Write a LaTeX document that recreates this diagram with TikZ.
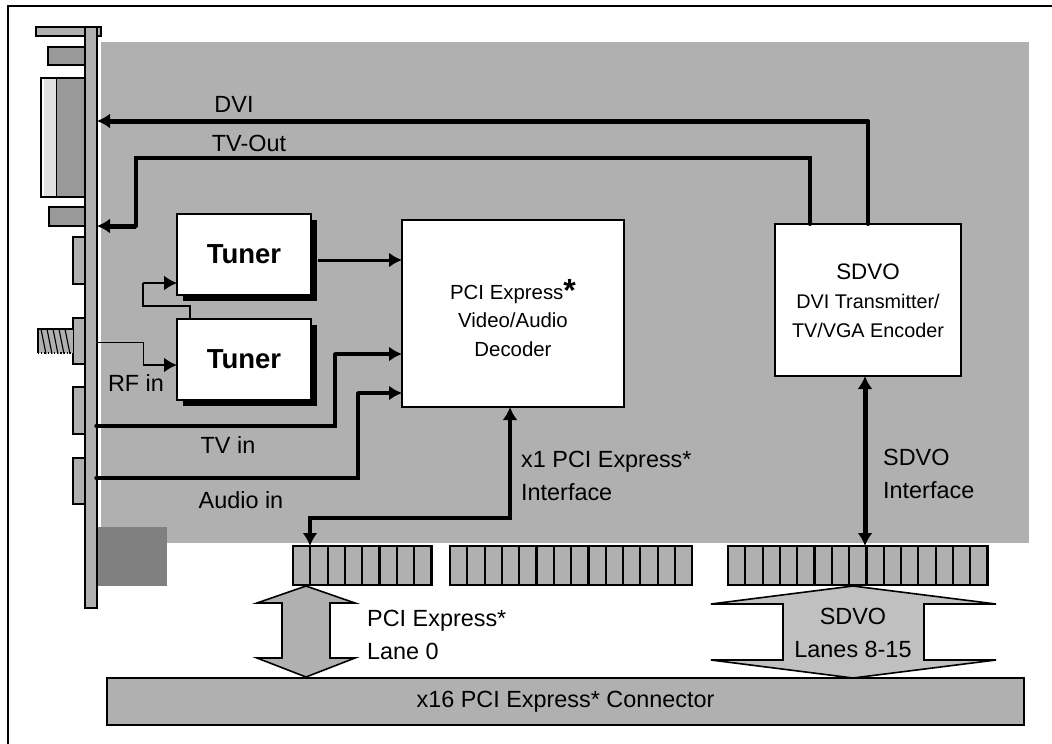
\documentclass[tikz,border=0pt]{standalone}
\usepackage{fontspec}
\setmainfont{Liberation Sans}
\usetikzlibrary{arrows.meta}
\usetikzlibrary{calc}
\usetikzlibrary{shadows}
\definecolor{boardgray}{HTML}{B0B0B0}
\definecolor{portgray}{HTML}{999999}
\definecolor{cornergray}{HTML}{808080}
\definecolor{lanegray}{HTML}{C0C0C0}
\tikzset{
  lbl/.style={font=\fontsize{23.4}{33}\selectfont,inner sep=0pt,align=left},
  tunerbox/.style={draw,fill=white,line width=1.2pt,outer sep=0pt,minimum width=134pt,minimum height=81pt,
    font=\fontsize{27.5}{30}\selectfont\bfseries,
    drop shadow={shadow xshift=6pt,shadow yshift=-6pt,fill=black,opacity=1}},
  chipbox/.style={draw,fill=white,line width=1.4pt,outer sep=0pt},
  tip/.style={-{Latex[length=13pt,width=15pt]}},
  tiptwo/.style={{Latex[length=13pt,width=15pt]}-{Latex[length=13pt,width=15pt]}},
  port/.style={draw,line width=1.8pt,fill=boardgray},
  slotbox/.style={draw,line width=2.2pt,fill=boardgray},
  lanearrow/.style={draw,line width=1.6pt}
}

\begin{document}
\begin{tikzpicture}[x=1pt,y=-1pt]
\useasboundingbox (0,0) rectangle (1052,744);
\def\slotw{17.3};
% frame, top and left only
\draw[line width=2pt] (1052,5.5) -- (7.5,5.5) -- (7.5,744);
% board
\fill[boardgray] (101,42) rectangle (1029,543);
\fill[cornergray] (97,527) rectangle (167,586);
% bracket with its ports
\draw[port,line width=1.2pt] (36,27) rectangle (101,36);
\draw[port,fill=portgray] (48,47) rectangle (85,65);
\fill[portgray] (56,78) rectangle (85,197);
\fill[black!12] (44,78) rectangle (56,197);
\draw[line width=1.8pt] (85,78) -- (41,78) -- (41,197) -- (85,197);
\draw[line width=1pt] (56,78) -- (56,197);
\draw[port,fill=portgray] (49,207) rectangle (85,226);
\draw[port,line width=1.2pt] (73,237) rectangle (85,284);
\draw[port] (73,318) rectangle (85,364);
\draw[port] (73,387) rectangle (85,434);
\draw[port] (73,458) rectangle (85,504);
\draw[port,line width=1.5pt] (85,27) rectangle (97,608);
% screw of the RF port
\fill[boardgray] (38,329) rectangle (73,353);
\draw[line width=1.8pt] (73,329) -- (38,329) -- (38,353);
\draw[line width=1.2pt,dotted] (38,353) -- (73,353);
\foreach \x in {41,47,53,59,65}
  \draw[line width=1.1pt] (\x,329) -- (\x+5,354);
% boxes
\node[tunerbox] (tunerTop) at (244,254.5) {Tuner};
\node[tunerbox] (tunerBot) at (244,359.5) {Tuner};
\node[chipbox,minimum width=222pt,minimum height=187pt] (decoder) at (513,313.5) {};
\node[chipbox,minimum width=186pt,minimum height=152pt] (encoder) at (868,300) {};
\node[draw,fill=boardgray,line width=1.5pt,outer sep=0pt,minimum width=917pt,minimum height=47pt,font=\fontsize{23.4}{26}\selectfont] (pcieconn) at (565.5,701.5) {x16 PCI Express* Connector};
% slots
\foreach \i in {0,...,7}
  \draw[slotbox] (293+\i*\slotw,546) rectangle (293+\i*\slotw+\slotw,585);
\foreach \i in {0,...,13}
  \draw[slotbox] (450+\i*\slotw,546) rectangle (450+\i*\slotw+\slotw,585);
\foreach \i in {0,...,14}
  \draw[slotbox] (728+\i*\slotw,546) rectangle (728+\i*\slotw+\slotw,585);
% free ends of the lines
\coordinate (dviPort) at (97,121);
\coordinate (dviBend) at (868,121);
\coordinate (tvoPort) at (97,226);
\coordinate (tvoBendA) at (136,226);
\coordinate (tvoBendB) at (136,158);
\coordinate (tvoBendC) at (810,158);
\coordinate (tunerOut) at (318,260);
\coordinate (rfPort) at (97,342);
\coordinate (rfBendA) at (143,342);
\coordinate (rfBendB) at (143,365);
\coordinate (rfBendC) at (143,283);
\coordinate (rfBendD) at (143,306);
\coordinate (rfBendE) at (190,306);
\coordinate (tviPort) at (96,426);
\coordinate (tviBendA) at (335,426);
\coordinate (tviBendB) at (335,354);
\coordinate (audPort) at (96,478);
\coordinate (audBendA) at (358,478);
\coordinate (audBendB) at (358,393);
\coordinate (lanePort) at (310,546);
\coordinate (laneBendA) at (310,518);
\coordinate (laneBendB) at (510,518);
\coordinate (sdvoPort) at (865,546);
% outputs
\draw[tip,line width=5pt] (dviBend) -- (dviPort);
\draw[line width=4pt,line cap=round] (dviBend) -- (dviBend |- encoder.north);
\draw[line width=4pt,line cap=round] (tvoBendC |- encoder.north) -- (tvoBendC) -- (tvoBendB) -- (tvoBendA);
\draw[tip,line width=5pt] (tvoBendA) -- (tvoPort);
% tuners and inputs
\draw[tip,line width=3pt] (tunerOut) -- (tunerOut -| decoder.west);
\draw[line width=1pt] (rfPort) -- (rfBendA) -- (rfBendB);
\draw[tip,line width=2.5pt] (rfBendB) -- (rfBendB -| tunerBot.west);
\draw[tip,line width=2pt] (rfBendC) -- (rfBendC -| tunerTop.west);
\draw[line width=1.2pt] (rfBendC) -- (rfBendD) -- (rfBendE) -- (rfBendE |- tunerBot.north);
\draw[line width=3.5pt,line cap=round] (tviPort) -- (tviBendA) -- (tviBendB);
\draw[tip,line width=4pt] (tviBendB) -- (tviBendB -| decoder.west);
\draw[line width=3.5pt,line cap=round] (audPort) -- (audBendA) -- (audBendB);
\draw[tip,line width=4.5pt] (audBendB) -- (audBendB -| decoder.west);
% lanes to the slots
\draw[tiptwo,line width=4pt] (laneBendB |- decoder.south) -- (laneBendB) -- (laneBendA) -- (lanePort);
\draw[tiptwo,line width=5pt] (sdvoPort |- encoder.south) -- (sdvoPort);
% block arrows
\draw[lanearrow,fill=boardgray] (306,586) -- (355,603) -- (330,603) -- (330,658) -- (355,658) -- (306,677)
  -- (257,658) -- (282,658) -- (282,603) -- (257,603) -- cycle;
\draw[lanearrow,fill=lanegray] (853,586) -- (996,604) -- (924,604) -- (924,660) -- (996,660) -- (853,678)
  -- (711,660) -- (783,660) -- (783,604) -- (711,604) -- cycle;
% labels
\node[lbl] (dviLbl) at (234,104) {DVI};
\node[lbl] (tvoLbl) at (249,143) {TV-Out};
\node[lbl] (rfLbl) at (136,383) {RF in};
\node[lbl] (tviLbl) at (228,445) {TV in};
\node[lbl] (audLbl) at (241,500) {Audio in};
\node[lbl,anchor=west] (x1Lbl) at (521,476) {x1 PCI Express*\\Interface};
\node[lbl,anchor=west] (sdvoLbl) at (883,474) {SDVO\\Interface};
\node[lbl,anchor=west] (laneLbl) at (367,635) {PCI Express*\\Lane 0};
\node[lbl,align=center] (sdvoLaneLbl) at (853,633) {SDVO\\Lanes 8-15};
\node[lbl,align=center,font=\fontsize{20.4}{28.5}\selectfont] (decoderLbl) at (513,318)
  {PCI Express\raisebox{-2pt}{\fontsize{32}{32}\selectfont\bfseries *}\\Video/Audio\\Decoder};
\node[lbl,align=center,font=\fontsize{19.8}{29}\selectfont] (encoderLbl) at (868,301)
  {{\fontsize{22.4}{29}\selectfont SDVO}\\DVI Transmitter/\\TV/VGA Encoder};
\end{tikzpicture}
\end{document}
